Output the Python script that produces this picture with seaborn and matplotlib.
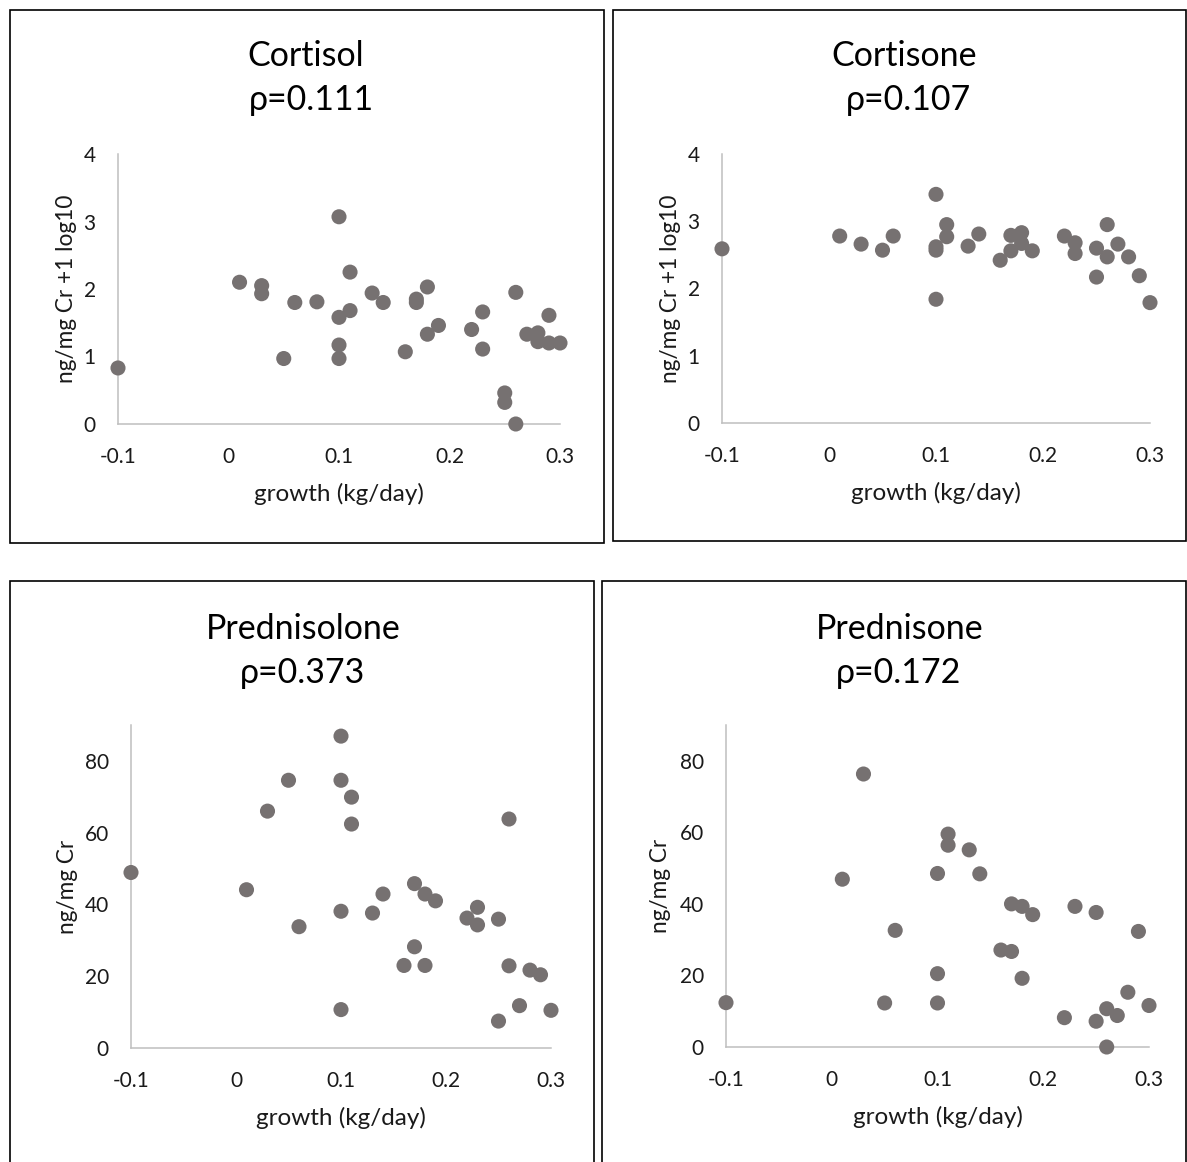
import matplotlib
matplotlib.use('Agg')
import matplotlib.pyplot as plt
import seaborn as sns
import pandas as pd
from matplotlib.patches import Rectangle

# ---------------- data ----------------
cortisol_x = [-0.10, 0.01, 0.03, 0.03, 0.05, 0.06, 0.08, 0.10, 0.10, 0.10, 0.10,
              0.11, 0.11, 0.13, 0.14, 0.16, 0.17, 0.17, 0.18, 0.18, 0.19, 0.22,
              0.23, 0.23, 0.25, 0.25, 0.26, 0.26, 0.27, 0.28, 0.28, 0.29, 0.29, 0.30]
cortisol_y = [0.83, 2.10, 2.05, 1.93, 0.97, 1.80, 1.81, 3.07, 1.58, 1.17, 0.97,
              2.25, 1.68, 1.94, 1.80, 1.07, 1.85, 1.80, 2.03, 1.33, 1.46, 1.40,
              1.66, 1.11, 0.46, 0.32, 0.00, 1.95, 1.33, 1.35, 1.22, 1.61, 1.20, 1.20]

cortisone_x = [-0.10, 0.01, 0.03, 0.05, 0.06, 0.10, 0.10, 0.10, 0.10, 0.11, 0.11,
               0.13, 0.14, 0.16, 0.17, 0.17, 0.18, 0.18, 0.19, 0.22, 0.23, 0.23,
               0.25, 0.25, 0.26, 0.26, 0.27, 0.28, 0.29, 0.30]
cortisone_y = [2.59, 2.78, 2.66, 2.57, 2.78, 3.40, 2.62, 2.57, 1.84, 2.95, 2.77,
               2.63, 2.81, 2.42, 2.79, 2.56, 2.83, 2.67, 2.56, 2.78, 2.68, 2.52,
               2.60, 2.17, 2.95, 2.47, 2.66, 2.47, 2.19, 1.79]

prednisolone_x = [-0.10, 0.01, 0.03, 0.05, 0.06, 0.10, 0.10, 0.10, 0.10, 0.11, 0.11,
                  0.13, 0.14, 0.16, 0.17, 0.17, 0.18, 0.18, 0.19, 0.22, 0.23, 0.23,
                  0.25, 0.25, 0.26, 0.26, 0.27, 0.28, 0.29, 0.30]
prednisolone_y = [48.9, 44.1, 66.0, 74.6, 33.8, 86.9, 74.6, 38.1, 10.7, 69.9, 62.4,
                  37.6, 42.9, 23.0, 45.8, 28.2, 42.9, 23.0, 41.0, 36.2, 39.2, 34.3,
                  35.9, 7.5, 63.8, 22.9, 11.8, 21.7, 20.4, 10.5]

prednisone_x = [-0.10, 0.01, 0.03, 0.05, 0.06, 0.10, 0.10, 0.10, 0.11, 0.11, 0.13,
                0.14, 0.16, 0.17, 0.17, 0.18, 0.18, 0.19, 0.22, 0.23, 0.25, 0.25,
                0.26, 0.26, 0.27, 0.28, 0.29, 0.30]
prednisone_y = [12.4, 46.9, 76.3, 12.3, 32.6, 48.5, 20.5, 12.3, 59.5, 56.4, 55.1,
                48.4, 27.1, 40.0, 26.7, 39.3, 19.2, 37.0, 8.2, 39.3, 37.6, 7.2,
                10.7, 0.0, 8.8, 15.3, 32.3, 11.6]

titles = ["Cortisol", "Cortisone", "Prednisolone", "Prednisone"]
rhos = ["ρ=0.111", "ρ=0.107", "ρ=0.373", "ρ=0.172"]
ylabels = ["ng/mg Cr +1 log10", "ng/mg Cr +1 log10", "ng/mg Cr", "ng/mg Cr"]
xlabel = "growth (kg/day)"
xticks = [-0.1, 0.0, 0.1, 0.2, 0.3]
xtick_labels = ["-0.1", "0", "0.1", "0.2", "0.3"]
yticks_log = [0, 1, 2, 3, 4]
yticks_ng = [0, 20, 40, 60, 80]

# ---------------- style ----------------
sns.set_theme(style="white")
plt.rcParams['font.family'] = ['Lato', 'DejaVu Sans']

W, H = 1187, 1162
fig = plt.figure(figsize=(W / 100, H / 100), dpi=100)
fig.patch.set_facecolor('white')

def px_axes(l, t, r, b):
    return fig.add_axes([l / W, 1 - b / H, (r - l) / W, (b - t) / H])

# plot areas in pixels (left, top, right, bottom)
areas = [(118, 154, 560, 424), (722, 154, 1150, 423),
         (131, 725, 551, 1048), (726, 725, 1149, 1047)]
boxes = [(10, 10, 604, 543), (613, 10, 1186, 541),
         (10, 581, 594, 1175), (602, 581, 1186, 1175)]
# (title x, rho x, title baseline y, rho baseline y)
title_pos = [(306, 311, 66, 110), (904, 908, 66, 110),
             (303, 303, 639, 683), (900, 899, 639, 683)]

data = [(cortisol_x, cortisol_y), (cortisone_x, cortisone_y),
        (prednisolone_x, prednisolone_y), (prednisone_x, prednisone_y)]
ylims = [(0, 4), (0, 4), (0, 90), (0, 90)]
yticks_all = [yticks_log, yticks_log, yticks_ng, yticks_ng]
ylabel_offset = [-41, -41, -53, -55]

point_color = '#767171'
axis_color = '#BFBFBF'
text_color = '#1a1a1a'

for i in range(4):
    bl, bt, br, bb = boxes[i]
    fig.add_artist(Rectangle((bl / W, 1 - bb / H), (br - bl) / W, (bb - bt) / H,
                             transform=fig.transFigure, fill=False,
                             edgecolor='black', linewidth=1.2))
    l, t, r, b = areas[i]
    ax = px_axes(l, t, r, b)
    df = pd.DataFrame({'x': data[i][0], 'y': data[i][1]})
    sns.scatterplot(data=df, x='x', y='y', ax=ax, color=point_color, s=118,
                    edgecolor='none', linewidth=0, clip_on=False, zorder=3)
    ax.set_xlim(-0.1, 0.3)
    ax.set_ylim(*ylims[i])
    ax.set_xticks(xticks)
    ax.set_xticklabels(xtick_labels)
    ax.set_yticks(yticks_all[i])
    ax.set_yticklabels([str(v) for v in yticks_all[i]])
    ax.tick_params(axis='both', length=0, labelsize=15, colors=text_color)
    ax.tick_params(axis='x', pad=16.5)
    ax.tick_params(axis='y', pad=16)
    for s in ['top', 'right']:
        ax.spines[s].set_visible(False)
    for s in ['left', 'bottom']:
        ax.spines[s].set_color(axis_color)
        ax.spines[s].set_linewidth(1.1)
    ax.set_facecolor('none')
    ax.set_xlabel(xlabel, fontsize=17.5, color=text_color)
    ax.set_ylabel(ylabels[i], fontsize=16.3, color=text_color)
    ax.xaxis.set_label_coords(0.5, -59 / (b - t))
    ax.yaxis.set_label_coords(ylabel_offset[i] / (r - l), 0.5)
    tx, rx, ty1, ty2 = title_pos[i]
    fig.text(tx / W, 1 - ty1 / H, titles[i], ha='center', va='baseline',
             fontsize=24.5, color='black')
    fig.text(rx / W, 1 - ty2 / H, rhos[i], ha='center', va='baseline',
             fontsize=24.5, color='black')

fig.savefig('out.png', dpi=100, facecolor='white')
